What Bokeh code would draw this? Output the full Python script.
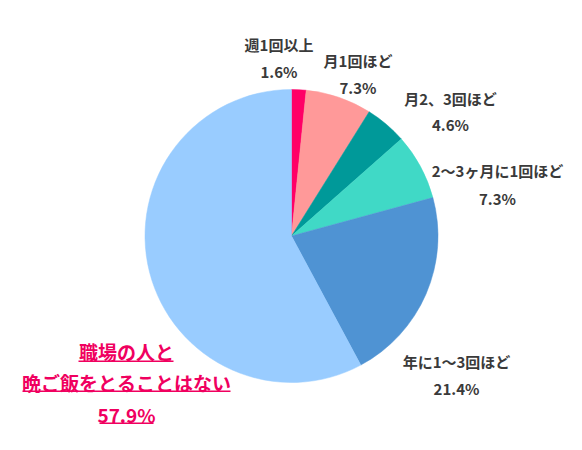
import numpy as np
from bokeh.plotting import figure
from bokeh.models import Range1d, ColumnDataSource
from bokeh.core.properties import value
from bokeh.embed import file_html
from bokeh.resources import INLINE

# answers, clockwise from 12 o'clock
categories = ["週1回以上", "月1回ほど", "月2、3回ほど", "2～3ヶ月に1回ほど",
              "年に1～3回ほど", "職場の人と\n晩ご飯をとることはない"]
shares = [1.6, 7.3, 4.6, 7.3, 21.4, 57.9]
slice_colors = ["#FF0066", "#FF9999", "#009999", "#40D9C6", "#4F93D3", "#99CCFF"]

W, H = 566, 434
FONT = "Noto Sans CJK JP"
DARK = "#3a3a3a"
PINK = "#F0005F"


def py(y):
    # page pixel -> data y (y axis points up)
    return H - y


p = figure(width=W, height=H, output_backend="svg", toolbar_location=None,
           tools=[], x_range=Range1d(0, W), y_range=Range1d(0, H),
           min_border=0)
p.axis.visible = False
p.grid.visible = False
p.outline_line_color = None
p.background_fill_color = "white"

# pie
frac = np.array(shares) / sum(shares)
cum = np.concatenate([[0], np.cumsum(frac)])
start = np.pi / 2 - 2 * np.pi * cum[:-1]
end = np.pi / 2 - 2 * np.pi * cum[1:]
pie = ColumnDataSource(dict(start=start, end=end, color=slice_colors))
p.wedge(x=291, y=py(235.5), radius=146.5, start_angle="start", end_angle="end",
        direction="clock", fill_color="color", line_color="color",
        line_width=0.5, source=pie)

# dark labels: name line, value line (page positions)
label_x = [278.5, 357.5, 450.0, 497.0, 456.0]
name_y = [43.5, 59.5, 97.5, 170.0, 360.5]
val_y = [71.0, 86.5, 124.0, 198.0, 388.0]

names = categories[:5]
vals = [f"{v}%" for v in shares[:5]]
p.text(x=label_x + label_x, y=[py(v) for v in name_y + val_y],
       text=names + vals, text_font=value(FONT), text_font_style="bold",
       text_font_size="15px", text_color=DARK, text_align="center",
       text_baseline="middle")

# highlighted label for the biggest slice, underlined
big_lines = categories[5].split("\n") + [f"{shares[5]}%"]
big_y = [351.0, 381.5, 414.0]
p.text(x=[126] * 3, y=[py(v) for v in big_y], text=big_lines,
       text_font=value(FONT), text_font_style="bold", text_font_size="19px",
       text_color=PINK, text_align="center", text_baseline="middle")

ul_x0 = [78, 22, 99]
ul_x1 = [173, 230, 153]
ul_y = [360.7, 390.7, 422.7]
p.segment(x0=ul_x0, y0=[py(v) for v in ul_y], x1=ul_x1,
          y1=[py(v) for v in ul_y], line_color=PINK, line_width=1.5)

open("out.html", "w").write(file_html(p, INLINE))
